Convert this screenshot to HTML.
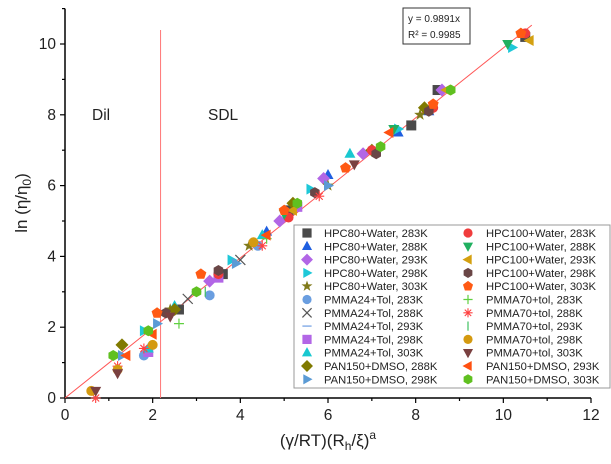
<!DOCTYPE html>
<html><head><meta charset="utf-8"><style>
body{margin:0;background:#fff}
svg{display:block;font-family:"Liberation Sans",sans-serif}
</style></head><body>
<svg id="c" width="611" height="464" viewBox="0 0 611 464"></svg>
<script>
const xTicks=[0,2,4,6,8,10,12];
const yTicks=[0,2,4,6,8,10];
const slope=0.9891;
const names=["HPC80+Water, 283K","HPC80+Water, 288K","HPC80+Water, 293K","HPC80+Water, 298K","HPC80+Water, 303K","PMMA24+Tol, 283K","PMMA24+Tol, 288K","PMMA24+Tol, 293K","PMMA24+Tol, 298K","PMMA24+Tol, 303K","PAN150+DMSO, 288K","PAN150+DMSO, 298K","HPC100+Water, 283K","HPC100+Water, 288K","HPC100+Water, 293K","HPC100+Water, 298K","HPC100+Water, 303K","PMMA70+tol, 283K","PMMA70+tol, 288K","PMMA70+tol, 293K","PMMA70+tol, 298K","PMMA70+tol, 303K","PAN150+DMSO, 293K","PAN150+DMSO, 303K"];
const xs=[[2.6,3.6,5.1,7.9,8.5,10.5],[4.6,6.0,7.6,8.3],[3.3,4.9,5.9,6.8,8.6],[1.8,3.8,5.6,7.6,10.2],[2.4,4.2,6.0,8.1],[1.8,3.3,4.4],[2.8,4.0],[3.0],[1.9,3.5,5.3],[1.9,2.5,4.5,6.5],[1.3,2.5,5.2,7.0,8.2],[1.3,2.1,3.9,6.0],[3.5,5.1,7.0,8.4,10.5],[5.0,7.5,10.1],[5.2,8.7,10.6],[2.3,3.5,5.7,7.1,8.3],[2.1,3.1,5.0,6.4,8.4,10.4],[2.6,4.6],[0.7,1.2,1.8,4.5,5.8],[3.2],[0.6,1.2,2.0,4.3],[0.7,1.2,2.4,6.6],[1.4,2.0,4.6,7.4],[1.1,1.9,3.0,5.3,7.2,8.8]];
const ys=[[2.5,3.5,5.3,7.7,8.7,10.2],[4.7,6.3,7.5,8.1],[3.3,5.0,6.2,6.9,8.7],[1.9,3.9,5.9,7.6,9.9],[2.5,4.3,6.0,8.0],[1.2,2.9,4.3],[2.8,3.9],[3.0],[1.3,3.4,5.4],[1.4,2.6,4.6,6.9],[1.5,2.5,5.5,7.0,8.2],[1.2,2.1,3.8,6.0],[3.5,5.1,7.0,8.2,10.3],[5.2,7.6,10.0],[5.3,8.7,10.1],[2.4,3.6,5.8,6.9,8.1],[2.4,3.5,5.3,6.5,8.3,10.3],[2.1,4.5],[0.0,0.9,1.4,4.3,5.7],[3.0],[0.2,0.8,1.5,4.4],[0.2,0.7,2.3,6.6],[1.2,1.8,4.6,7.5],[1.2,1.9,3.0,5.5,7.1,8.7]];
const shapes=["sq","tu","di","tr","st","ci","x","da","sq","tu","di","tr","ci","td","tl","hex","pent","plus","ast","bar","ci","td","tl","hex"];
const colors=["#4a4a4a","#1f5fe0","#b266e6","#1ec8d8","#807a1a","#6a9ee0","#555","#8ab0e8","#b266e6","#18c8d0","#807a00","#5b9bd5","#f03c3c","#20b060","#d4a010","#6a4646","#ff5a14","#60d040","#ff4040","#40c060","#d49a10","#7a4040","#ff5010","#60c020"];
const svg=document.getElementById('c');const NS='http://www.w3.org/2000/svg';
const X0=65,X1=591,Y0=398,Yt=8.6;
const sx=v=>X0+v*(X1-X0)/12, sy=v=>Y0-v*(Y0-Yt)/11;
function mk(t,a,p){const e=document.createElementNS(NS,t);for(const k in a)e.setAttribute(k,a[k]);(p||svg).appendChild(e);return e;}
function marker(s,x,y,c,r,g){r=r||4.3;let e;
if(s=="sq")e=mk('rect',{x:x-r,y:y-r,width:2*r,height:2*r,fill:c},g);
else if(s=="ci")e=mk('circle',{cx:x,cy:y,r:r,fill:c},g);
else if(s=="x")e=mk('path',{d:`M${x-r} ${y-r}L${x+r} ${y+r}M${x+r} ${y-r}L${x-r} ${y+r}`,stroke:c,'stroke-width':1.2},g);
else if(s=="plus")e=mk('path',{d:`M${x-r} ${y}L${x+r} ${y}M${x} ${y-r}L${x} ${y+r}`,stroke:c,'stroke-width':1.2},g);
else if(s=="ast")e=mk('path',{d:`M${x-r} ${y}L${x+r} ${y}M${x} ${y-r}L${x} ${y+r}M${x-r*.7} ${y-r*.7}L${x+r*.7} ${y+r*.7}M${x+r*.7} ${y-r*.7}L${x-r*.7} ${y+r*.7}`,stroke:c,'stroke-width':1.1},g);
else if(s=="da")e=mk('path',{d:`M${x-r} ${y}L${x+r} ${y}`,stroke:c,'stroke-width':1.5},g);
else if(s=="bar")e=mk('path',{d:`M${x} ${y-r}L${x} ${y+r}`,stroke:c,'stroke-width':1.2},g);
else{let pts;
if(s=="tu")pts=[[0,-1.2],[1.1,0.8],[-1.1,0.8]];
else if(s=="td")pts=[[0,1.2],[1.1,-0.8],[-1.1,-0.8]];
else if(s=="tr")pts=[[1.2,0],[-0.8,1.1],[-0.8,-1.1]];
else if(s=="tl")pts=[[-1.2,0],[0.8,1.1],[0.8,-1.1]];
else if(s=="di")pts=[[0,-1.3],[1.3,0],[0,1.3],[-1.3,0]];
else if(s=="hex")pts=[0,1,2,3,4,5].map(i=>[Math.cos(i*Math.PI/3+Math.PI/6)*1.1,Math.sin(i*Math.PI/3+Math.PI/6)*1.1]);
else if(s=="pent")pts=[0,1,2,3,4].map(i=>[Math.cos(i*2*Math.PI/5-Math.PI/2)*1.15,Math.sin(i*2*Math.PI/5-Math.PI/2)*1.15]);
else if(s=="st")pts=[0,1,2,3,4,5,6,7,8,9].map(i=>{const rr=i%2?0.5:1.25,a=i*Math.PI/5-Math.PI/2;return[Math.cos(a)*rr,Math.sin(a)*rr]});
e=mk('polygon',{points:pts.map(p=>(x+p[0]*r)+','+(y+p[1]*r)).join(' '),fill:c},g);}
return e;}
const ax=mk('g',{});
mk('line',{x1:X0,y1:Yt,x2:X0,y2:Y0,stroke:'#000','stroke-width':1.5},ax);
mk('line',{x1:X0,y1:Y0,x2:X1,y2:Y0,stroke:'#000','stroke-width':1.5},ax);
for(let i=0;i<=12;i++){mk('line',{x1:sx(i),y1:Y0,x2:sx(i),y2:Y0+(i%2?3:5),stroke:'#000','stroke-width':1.2},ax);}
for(let i=0;i<=11;i++){mk('line',{x1:X0,y1:sy(i),x2:X0-(i%2?3:5),y2:sy(i),stroke:'#000','stroke-width':1.2},ax);}
xTicks.forEach(v=>{const t=mk('text',{x:sx(v),y:Y0+22,'text-anchor':'middle','font-size':15.5,fill:'#222'},ax);t.textContent=v;});
yTicks.forEach(v=>{const t=mk('text',{x:X0-9,y:sy(v)+5,'text-anchor':'end','font-size':15.5,fill:'#222'},ax);t.textContent=v;});
let xl=mk('text',{x:328,y:446,'text-anchor':'middle','font-size':17,fill:'#222'});xl.innerHTML='(γ/RT)(R<tspan font-size="12" dy="4">h</tspan><tspan dy="-4">/ξ)</tspan><tspan font-size="12" dy="-7">a</tspan>';

let yl=mk('text',{x:0,y:0,'text-anchor':'middle','font-size':17,fill:'#222',transform:'translate(27,203) rotate(-90)'});yl.innerHTML='ln (η/η<tspan font-size="12" dy="4">0</tspan><tspan dy="-4">)</tspan>';

let vl=mk('line',{x1:sx(2.18),y1:30,x2:sx(2.18),y2:Y0,stroke:'#f77','stroke-width':1});
let fl=mk('line',{x1:sx(0),y1:sy(0),x2:sx(10.65),y2:sy(10.65*slope),stroke:'#f55','stroke-width':1});
let t1=mk('text',{x:92,y:120,'font-size':15.5,fill:'#222'});t1.textContent='Dil';
let t2=mk('text',{x:208,y:120,'font-size':15.5,fill:'#222'});t2.textContent='SDL';
xs.forEach((arr,i)=>{const g=mk('g',{});
arr.forEach((v,j)=>{const m=marker(shapes[i],sx(v),sy(ys[i][j]),colors[i],5,g);});});
const eb=mk('g',{});
mk('rect',{x:403,y:8,width:67,height:36,fill:'#fff',stroke:'#333','stroke-width':1},eb);
let e1=mk('text',{x:408,y:22,'font-size':10,fill:'#222'},eb);e1.textContent='y = 0.9891x';
let e2=mk('text',{x:408,y:38,'font-size':10,fill:'#222'},eb);e2.innerHTML='R² = 0.9985';
const lg=mk('g',{});
mk('rect',{x:294,y:225,width:316,height:163,fill:'#fff',stroke:'#999','stroke-width':1},lg);
names.forEach((n,i)=>{const col=i<12?0:1,row=i%12;const y=233+row*13.3;const mx=col?468:307,tx=col?486:324;
const e=mk('g',{},lg);
marker(shapes[i],mx,y,colors[i],4.6,e);
const t=mk('text',{x:tx,y:y+4,'font-size':11.2,fill:'#222'},e);t.textContent=n;});
</script>
</body></html>
